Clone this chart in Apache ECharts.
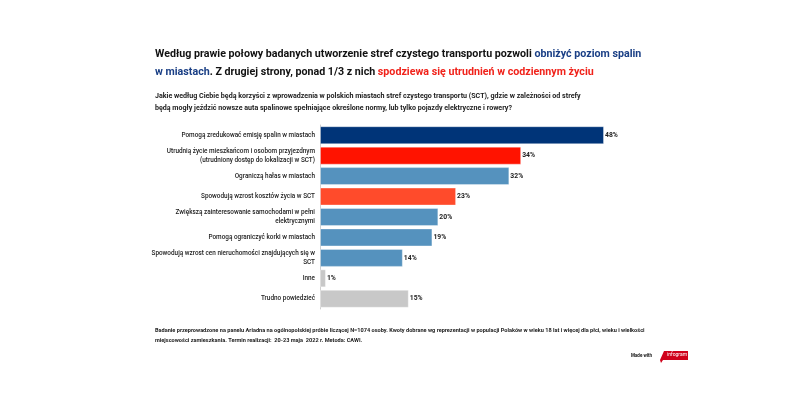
<!DOCTYPE html>
<html>
<head>
<meta charset="utf-8">
<script src="https://cdn.jsdelivr.net/npm/echarts@6/dist/echarts.min.js"></script>
<style>
html,body{margin:0;padding:0;background:#fff;}
#c{width:800px;height:400px;}
</style>
</head>
<body>
<div id="c"></div>
<script>
var categories = [
  "Pomogą zredukować emisję spalin w miastach",
  "Utrudnią życie mieszkańcom i osobom przyjezdnym\n(utrudniony dostęp do lokalizacji w SCT)",
  "Ograniczą hałas w miastach",
  "Spowodują wzrost kosztów życia w SCT",
  "Zwiększą zainteresowanie samochodami w pełni\nelektrycznymi",
  "Pomogą ograniczyć korki w miastach",
  "Spowodują wzrost cen nieruchomości znajdujących się w\nSCT",
  "Inne",
  "Trudno powiedzieć"
];
var values = [48, 34, 32, 23, 20, 19, 14, 1, 15];
var barColors = ["#003478", "#ff1300", "#5592be", "#ff4b2b", "#5592be", "#5592be", "#5592be", "#c8c8c8", "#c8c8c8"];

var chart = echarts.init(document.getElementById('c'));
var FONT = 'Roboto, "Noto Sans", sans-serif';
chart.setOption({
  backgroundColor: '#fff',
  animation: false,
  textStyle: { fontFamily: FONT },
  title: [{
    left: 150, top: 40,
    text: '{k|Według prawie połowy badanych utworzenie stref czystego transportu pozwoli }{b|obniżyć poziom spalin}\n{b|w miastach}{k|. Z drugiej strony, ponad 1/3 z nich }{r|spodziewa się utrudnień w codziennym życiu}',
    textStyle: {
      rich: {
        k: { fontFamily: FONT, fontWeight: 'bold', fontSize: 10.7, color: '#111', lineHeight: 18 },
        b: { fontFamily: FONT, fontWeight: 'bold', fontSize: 10.7, color: '#1a3f85', lineHeight: 18 },
        r: { fontFamily: FONT, fontWeight: 'bold', fontSize: 10.7, color: '#f0221a', lineHeight: 18 }
      }
    }
  }, {
    left: 150, top: 85,
    text: 'Jakie według Ciebie będą korzyści z wprowadzenia w polskich miastach stref czystego transportu (SCT), gdzie w zależności od strefy\nbędą mogły jeździć nowsze auta spalinowe spełniające określone normy, lub tylko pojazdy elektryczne i rowery?',
    textStyle: { fontFamily: FONT, fontWeight: 'bold', fontSize: 7.1, color: '#222', lineHeight: 12 }
  }, {
    left: 150, top: 321,
    text: 'Badanie przeprowadzone na panelu Ariadna na ogólnopolskiej próbie liczącej N=1074 osoby. Kwoty dobrane wg reprezentacji w populacji Polaków w wieku 18 lat i więcej dla płci, wieku i wielkości\nmiejscowości zamieszkania. Termin realizacji:  20-23 maja  2022 r. Metoda: CAWI.',
    textStyle: { fontFamily: FONT, fontWeight: 'bold', fontSize: 5.6, color: '#222', lineHeight: 10 }
  }],
  grid: { left: 320, right: 125, top: 125, bottom: 91 },
  xAxis: {
    type: 'value', min: 0, max: 60,
    show: false
  },
  yAxis: {
    type: 'category', data: categories, inverse: true,
    axisLine: { show: true, lineStyle: { color: '#d0d0d0', width: 1 } },
    axisTick: { show: false },
    axisLabel: { fontFamily: FONT, fontWeight: 500, fontSize: 6.4, color: '#222', margin: 5, lineHeight: 8.5, align: 'right' }
  },
  series: [{
    type: 'bar',
    data: values.map(function (v, i) {
      return { value: v, itemStyle: { color: barColors[i] } };
    }),
    barWidth: '88%',
    itemStyle: { borderColor: 'rgba(255,255,255,0.35)', borderWidth: 1 },
    label: {
      show: true, position: 'right', distance: 1,
      formatter: '{c}%',
      fontFamily: FONT, fontWeight: 'bold', fontSize: 6.8, color: '#222'
    }
  }],
  graphic: [{
    type: 'text', left: 631, top: 353,
    style: { text: 'Made with', fontFamily: FONT, fontWeight: 'bold', fontSize: 4.5, fill: '#111' }
  }, {
    type: 'polygon',
    shape: { points: [[660, 360], [664, 351], [688, 351], [688, 360], [663, 360], [661, 363]] },
    style: { fill: '#d0021b' }
  }, {
    type: 'text', left: 667, top: 352.5,
    style: { text: 'infogram', fontFamily: FONT, fontSize: 5, fill: '#fff' }
  }]
});
</script>
</body>
</html>
